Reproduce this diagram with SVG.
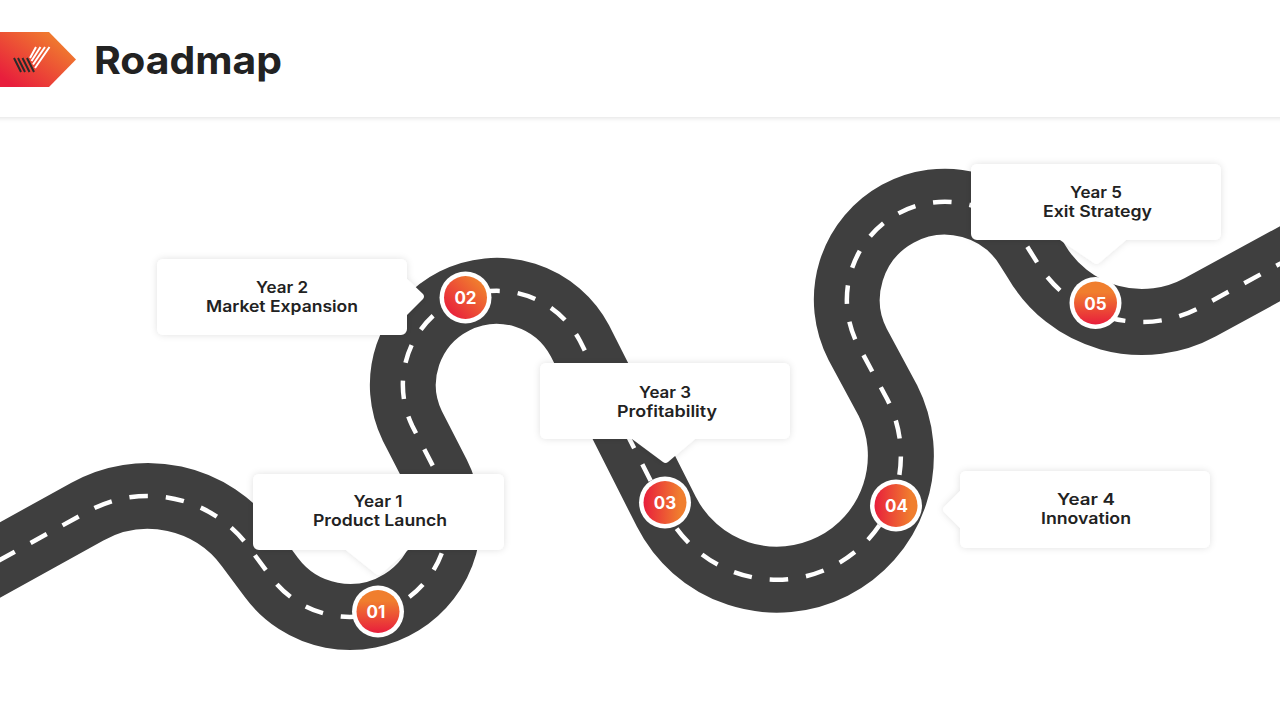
<svg xmlns="http://www.w3.org/2000/svg" width="1280" height="720" viewBox="0 0 1280 720">
<style>
.road{fill:none;stroke:#3f3f3f;stroke-width:66}
.lane{fill:none;stroke:#fff;stroke-width:4.500;stroke-dasharray:18.500 18;stroke-dashoffset:15.200}
.box{fill:#fff;filter:url(#sh)}
.ring{fill:#fff}
text{font-family:Inter,"Liberation Sans",sans-serif;font-weight:700;fill:#222;text-anchor:middle}
.lbl{font-size:16px;font-weight:600}
.num{font-size:17px;fill:#fff;font-weight:700}
</style>
<defs>
<filter id="sh" x="-10%" y="-20%" width="120%" height="140%"><feDropShadow dx="0" dy="0" stdDeviation="3.500" flood-color="#000" flood-opacity=".12"/></filter>
<filter id="hs" x="-2%" y="-10%" width="104%" height="125%"><feDropShadow dx="0" dy="1" stdDeviation="2.500" flood-color="#000" flood-opacity=".12"/></filter>
<linearGradient id="gv" x1="0" y1="1" x2="0" y2="0"><stop offset="0" stop-color="#E81E3C"/><stop offset=".75" stop-color="#F07E2E"/></linearGradient>
<linearGradient id="gh" x1="0" y1="0" x2="1" y2="0"><stop offset="0" stop-color="#E81E3C"/><stop offset=".85" stop-color="#F07E2E"/></linearGradient>
<linearGradient id="gd" x1="0" y1="1" x2="1" y2="0"><stop offset=".1" stop-color="#E81E3C"/><stop offset=".85" stop-color="#F07E2E"/></linearGradient>
</defs>
<rect width="1280" height="720" fill="#fff"/>
<g id="header">
<rect x="-20" y="-20" width="1320" height="137" fill="#fff" filter="url(#hs)"/>
<path d="M0 32H49L76 59.500L49 87H0Z" fill="url(#gd)"/>
<g stroke-width="2" fill="none">
<path d="M14 58l7 14M18 58l7 14M22.500 58l7 14M27 58l7 14" stroke="#2b2b2b"/>
<path d="M36 47L30 58M40.500 47L31.500 61M45 47L33 64.500M49.500 47L35 68" stroke="#fff"/>
</g>
<text x="94" y="74" font-size="38" style="text-anchor:start" textLength="188" lengthAdjust="spacingAndGlyphs">Roadmap</text>
</g>
<g id="connectors">
<path class="road" d="M-20 571L87.400 511.600A125 125 0 0 1 248.400 546.500L271.300 577.400A98 98 0 0 0 437.300 474.500L412.200 425.700A94 94 0 0 1 579.900 340.800L666.300 511.700A123 123 0 0 0 887.500 399.700L857.700 344.500A98 98 0 0 1 1029.500 250.300L1036.800 261.900A122 122 0 0 0 1200.200 307.200L1300 252.900"/>
<path class="lane" d="M-20 571L87.400 511.600A125 125 0 0 1 248.400 546.500L271.300 577.400A98 98 0 0 0 437.300 474.500L412.200 425.700A94 94 0 0 1 579.900 340.800L666.300 511.700A123 123 0 0 0 887.500 399.700L857.700 344.500A98 98 0 0 1 1029.500 250.300L1036.800 261.900A122 122 0 0 0 1200.200 307.200L1300 252.900"/>
</g>
<g id="node1">
<path class="box" d="M259 474H498a6 6 0 0 1 6 6V544a6 6 0 0 1 -6 6H408L381 574a4 4 0 0 1 -5 0L346 550H259a6 6 0 0 1 -6 -6V480a6 6 0 0 1 6 -6Z"/>
<text class="lbl" x="378" y="507" textLength="49" lengthAdjust="spacingAndGlyphs">Year 1</text>
<text class="lbl" x="380" y="526" textLength="134" lengthAdjust="spacingAndGlyphs">Product Launch</text>
<circle class="ring" cx="378" cy="611.500" r="26"/><circle cx="378" cy="611.500" r="21.500" fill="url(#gv)"/>
<text class="num" x="376" y="618">01</text>
</g>
<g id="node2">
<path class="box" d="M163 259H401a6 6 0 0 1 6 6V279L423 294a4 4 0 0 1 0 5L407 315V329a6 6 0 0 1 -6 6H163a6 6 0 0 1 -6 -6V265a6 6 0 0 1 6 -6Z"/>
<text class="lbl" x="282" y="293" textLength="52" lengthAdjust="spacingAndGlyphs">Year 2</text>
<text class="lbl" x="282" y="312" textLength="152" lengthAdjust="spacingAndGlyphs">Market Expansion</text>
<circle class="ring" cx="465.500" cy="297.500" r="26"/><circle cx="465.500" cy="297.500" r="21.500" fill="url(#gd)"/>
<text class="num" x="465.500" y="304">02</text>
</g>
<g id="node3">
<path class="box" d="M546 363H784a6 6 0 0 1 6 6V433a6 6 0 0 1 -6 6H695L668 462a4 4 0 0 1 -5 0L632 439H546a6 6 0 0 1 -6 -6V369a6 6 0 0 1 6 -6Z"/>
<text class="lbl" x="665" y="398" textLength="52" lengthAdjust="spacingAndGlyphs">Year 3</text>
<text class="lbl" x="667" y="417" textLength="100" lengthAdjust="spacingAndGlyphs">Profitability</text>
<circle class="ring" cx="665" cy="502.500" r="26"/><circle cx="665" cy="502.500" r="21.500" fill="url(#gh)"/>
<text class="num" x="665" y="509">03</text>
</g>
<g id="node4">
<path class="box" d="M966 471H1204a6 6 0 0 1 6 6V542a6 6 0 0 1 -6 6H966a6 6 0 0 1 -6 -6V528L944 512a4 4 0 0 1 0 -5L960 491V477a6 6 0 0 1 6 -6Z"/>
<text class="lbl" x="1086" y="505" textLength="58" lengthAdjust="spacingAndGlyphs">Year 4</text>
<text class="lbl" x="1086" y="524" textLength="90" lengthAdjust="spacingAndGlyphs">Innovation</text>
<circle class="ring" cx="896" cy="505.500" r="26"/><circle cx="896" cy="505.500" r="21.500" fill="url(#gh)"/>
<text class="num" x="896.500" y="512">04</text>
</g>
<g id="node5">
<path class="box" d="M977 164H1215a6 6 0 0 1 6 6V234a6 6 0 0 1 -6 6H1126L1099 263a4 4 0 0 1 -5 0L1060 240H977a6 6 0 0 1 -6 -6V170a6 6 0 0 1 6 -6Z"/>
<text class="lbl" x="1096" y="198" textLength="52" lengthAdjust="spacingAndGlyphs">Year 5</text>
<text class="lbl" x="1097.500" y="217" textLength="109" lengthAdjust="spacingAndGlyphs">Exit Strategy</text>
<circle class="ring" cx="1095.500" cy="303" r="26"/><circle cx="1095.500" cy="303" r="21.500" fill="url(#gv)"/>
<text class="num" x="1095.500" y="309.500">05</text>
</g>
</svg>
